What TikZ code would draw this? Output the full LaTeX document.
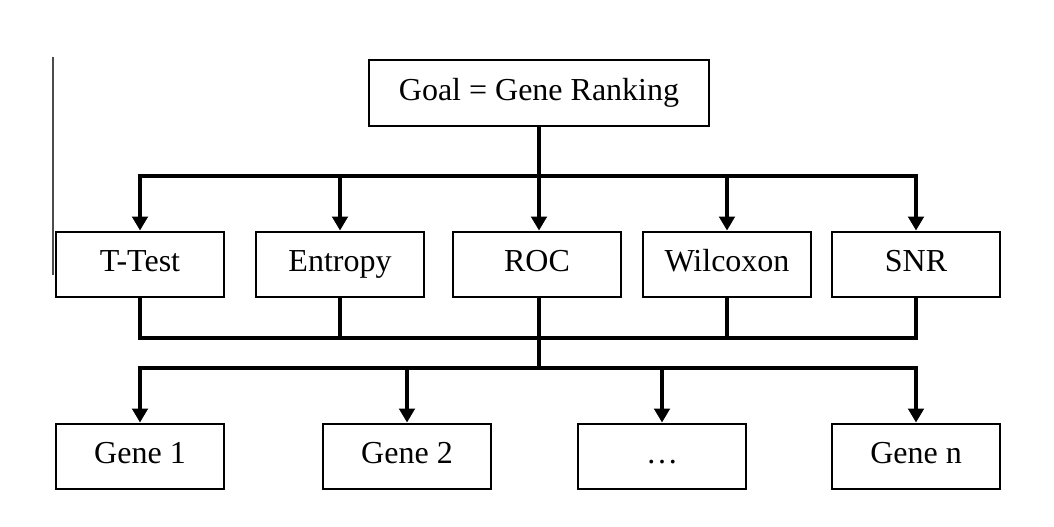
\documentclass[tikz,border=0pt]{standalone}
\usepackage{fontspec}
\setmainfont{Liberation Serif}
\usepackage{tikz}
\usetikzlibrary{arrows.meta, positioning}

\begin{document}
\begin{tikzpicture}[
      x=0.5pt, y=-0.5pt,
      box/.style={rectangle, draw=black, line width=1pt, minimum width=84pt,
                  minimum height=32.5pt, inner sep=0pt, text centered,
                  text height=11pt, text depth=3.5pt,
                  font=\fontsize{16}{19}\selectfont},
      conn/.style={line width=1.6pt, line join=miter},
      arr/.style={conn, -{Triangle[width=7.8pt,length=7pt]}}
    ]
    \useasboundingbox (0,0) rectangle (1054,526);

    \node[box, minimum width=170pt, minimum height=33pt] (goal) at (539,93) {Goal = Gene Ranking};

    \node[box] (ttest) at (140,264) {T-Test};
    \node[box] (entr)  at (340,264) {Entropy};
    \node[box] (roc)   at (537,264) {ROC};
    \node[box] (wilc)  at (727,264) {Wilcoxon};
    \node[box] (snr)   at (916,264) {SNR};

    \node[box] (gene1) at (140,456) {Gene 1};
    \node[box] (gene2) at (407,456) {Gene 2};
    \node[box] (dots)  at (662,456) {\ldots};
    \node[box] (genen) at (916,456) {Gene n};

    % junction points on the bars
    \coordinate (top) at (539,176);
    \coordinate (mid) at (539,338);
    \coordinate (low) at (539,368);

    \draw[conn] (goal.south) -- (top);
    \foreach \m in {ttest, entr, wilc, snr}
      \draw[arr] (top) -| (\m.north);
    \draw[arr] (top) -- (top |- roc.north);

    \foreach \m in {ttest, entr, wilc, snr}
      \draw[conn] (\m.south) |- (mid);
    \draw[conn] (roc.south -| low) -- (low);

    \foreach \g in {gene1, gene2, dots, genen}
      \draw[arr] (low) -| (\g.north);

    % stray rule at the left edge
    \draw[line width=0.6pt, black!70] (53,57) -- (53,275);
  \end{tikzpicture}
\end{document}
